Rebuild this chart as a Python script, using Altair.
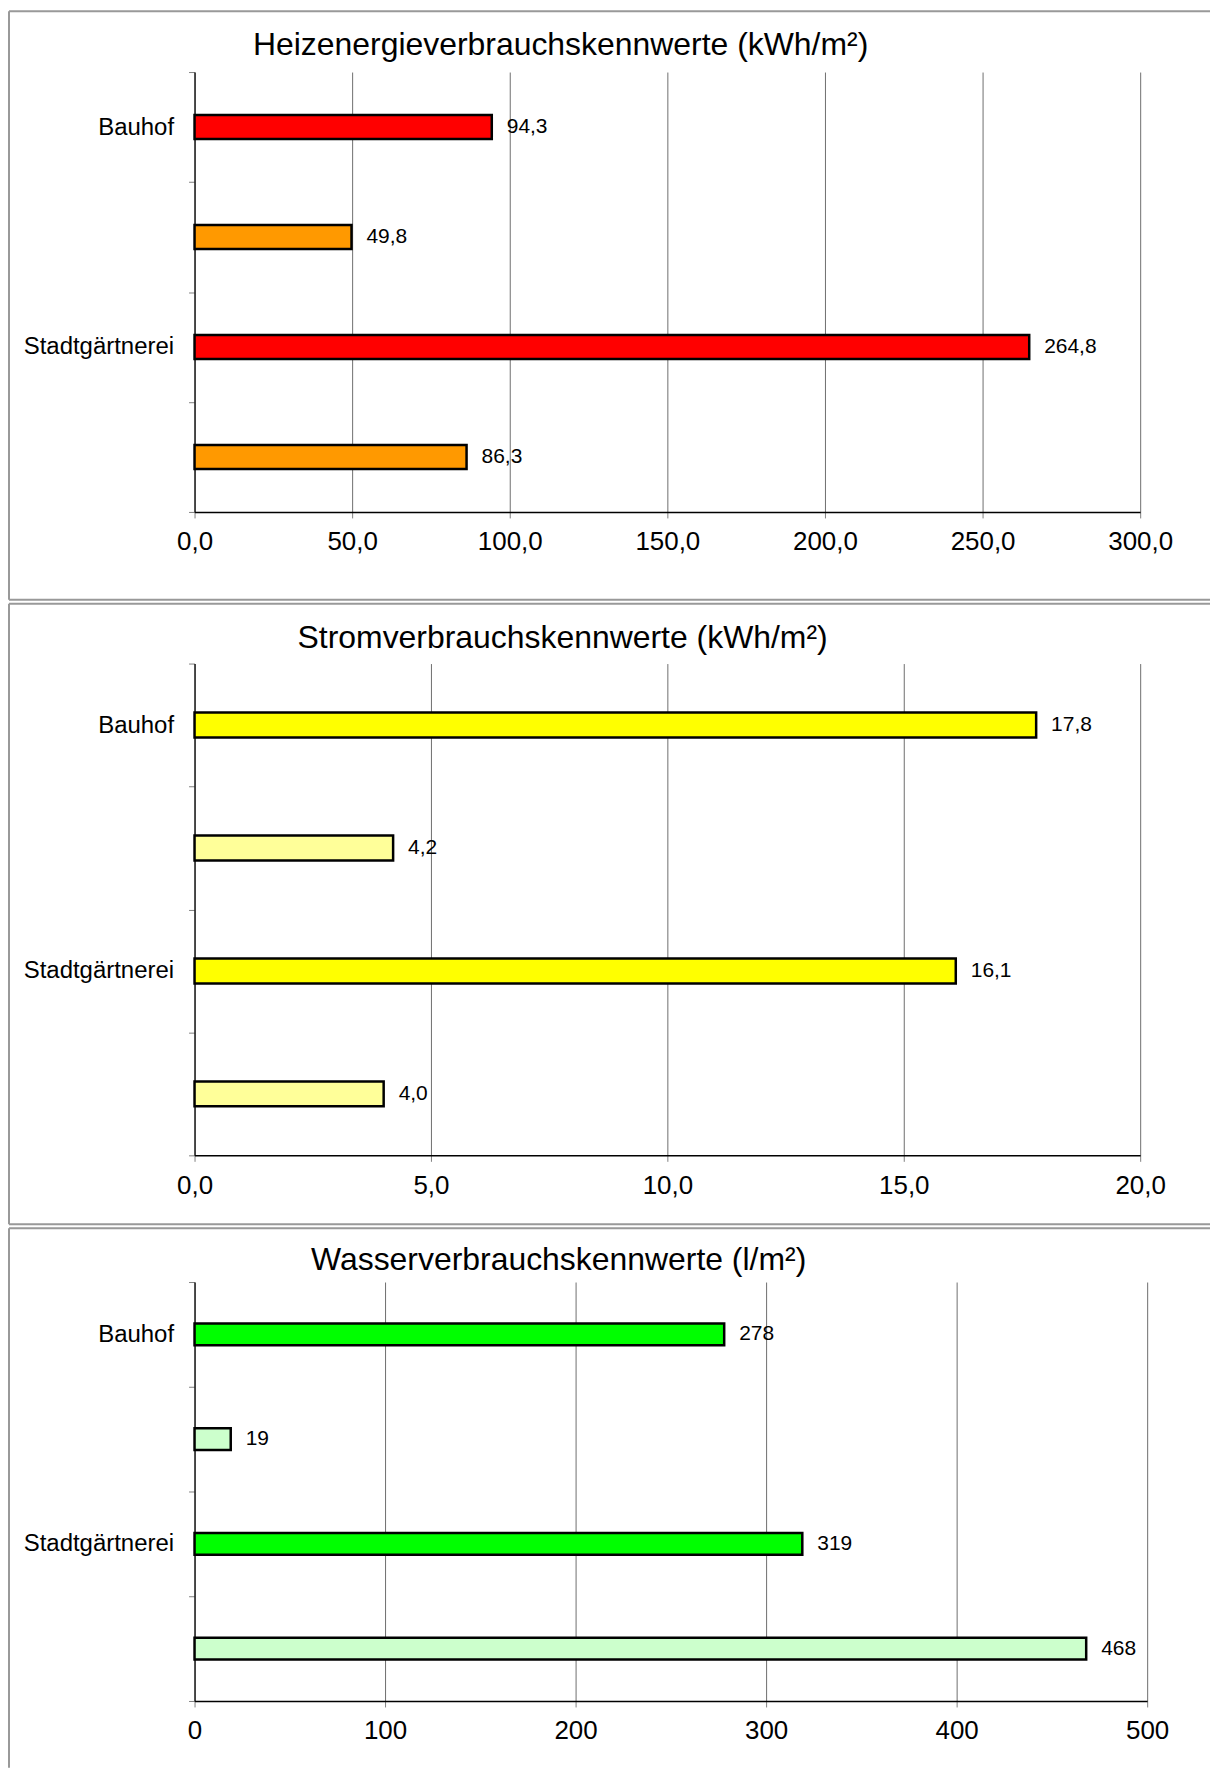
import altair as alt
import pandas as pd

FONT = "Liberation Sans"

# ---- data -------------------------------------------------------------
row_ids = ["Bauhof", "Bauhof Vergleich", "Stadtgärtnerei", "Stadtgärtnerei Vergleich"]
row_labels = ["Bauhof", "", "Stadtgärtnerei", ""]

heat_title = "Heizenergieverbrauchskennwerte (kWh/m²)"
heat_values = [94.3, 49.8, 264.8, 86.3]
heat_colors = ["#FF0000", "#FF9900", "#FF0000", "#FF9900"]
heat_ticks = [0, 50, 100, 150, 200, 250, 300]

power_title = "Stromverbrauchskennwerte (kWh/m²)"
power_values = [17.8, 4.2, 16.1, 4.0]
power_colors = ["#FFFF00", "#FFFF99", "#FFFF00", "#FFFF99"]
power_ticks = [0, 5, 10, 15, 20]

water_title = "Wasserverbrauchskennwerte (l/m²)"
water_values = [278, 19, 319, 468]
water_colors = ["#00FF00", "#CCFFCC", "#00FF00", "#CCFFCC"]
water_ticks = [0, 100, 200, 300, 400, 500]

FMT_DEC = "replace(format({v}, '.1f'), '.', ',')"
FMT_INT = "format({v}, 'd')"

label_expr = " : ".join(
    f"datum.label == '{i}' ? '{l}'" for i, l in zip(row_ids, row_labels)
) + " : datum.label"

FRAME_RIGHT = 1018
FRAME_LEFT = -186


def panel(title, values, colors, ticks, fmt, w, h, bar_size,
          frame_top, frame_bottom, title_x, title_y, draw_bottom=True):
    df = pd.DataFrame({"row": row_ids, "value": values, "color": colors})
    base = alt.Chart(df)
    y_axis = alt.Axis(
        title=None, labelExpr=label_expr, tickBand="extent", tickSize=6,
        tickColor="#808080", domainColor="black", domainWidth=1.2,
        labelFontSize=24, labelPadding=15, labelColor="black", labelFont=FONT,
        grid=False,
    )
    x_axis = alt.Axis(
        title=None, values=ticks, labelExpr=fmt.format(v="datum.value"),
        grid=True, gridColor="#6e6e6e", gridWidth=1, tickSize=6,
        tickColor="#808080", domainColor="black", domainWidth=1.5,
        labelFontSize=26, labelPadding=11, labelColor="black", labelFont=FONT,
        labelFlush=False, labelOverlap=False,
    )
    y = alt.Y("row:N", sort=row_ids, axis=y_axis,
              scale=alt.Scale(paddingInner=0, paddingOuter=0))
    x = alt.X("value:Q", axis=x_axis,
              scale=alt.Scale(domain=[ticks[0], ticks[-1]], nice=False))
    bars = base.mark_bar(size=bar_size, stroke="black", strokeWidth=2.5).encode(
        x=x, y=y, fill=alt.Fill("color:N", scale=None)
    )
    labels = base.transform_calculate(
        lbl=fmt.format(v="datum.value")
    ).mark_text(align="left", baseline="middle", dx=15, fontSize=21,
                font=FONT, color="black").encode(
        x="value:Q", y=alt.Y("row:N", sort=row_ids), text="lbl:N"
    )
    tdf = pd.DataFrame({"t": [title]})
    ttl = alt.Chart(tdf).mark_text(
        align="center", baseline="middle", fontSize=32, font=FONT, color="black"
    ).encode(x=alt.value(title_x), y=alt.value(title_y), text="t:N")
    fdf = pd.DataFrame({"f": [1]})
    fc = alt.Chart(fdf)
    left = fc.mark_rule(color="#999999", strokeWidth=2).encode(
        x=alt.value(FRAME_LEFT), y=alt.value(frame_top), y2=alt.value(frame_bottom))
    top = fc.mark_rule(color="#999999", strokeWidth=2).encode(
        x=alt.value(FRAME_LEFT), x2=alt.value(FRAME_RIGHT), y=alt.value(frame_top))
    layers = [left, top]
    if draw_bottom:
        bottom = fc.mark_rule(color="#999999", strokeWidth=2).encode(
            x=alt.value(FRAME_LEFT), x2=alt.value(FRAME_RIGHT), y=alt.value(frame_bottom))
        layers.append(bottom)
    return alt.layer(bars, labels, ttl, *layers).properties(width=w, height=h)


p1 = panel(heat_title, heat_values, heat_colors, heat_ticks, FMT_DEC,
           948, 441, 24, -61, 529, 367, -27)
p2 = panel(power_title, power_values, power_colors, power_ticks, FMT_DEC,
           948, 493, 25, -60, 562, 369, -26)
p3 = panel(water_title, water_values, water_colors, water_ticks, FMT_INT,
           955, 420, 22, -54, 487, 365, -22, draw_bottom=False)

chart = alt.vconcat(p1, p2, p3, spacing=2).properties(
    padding=0, background="white"
).configure_view(strokeWidth=0)

chart.save("out.html", embed_options={"renderer": "svg", "actions": False})
